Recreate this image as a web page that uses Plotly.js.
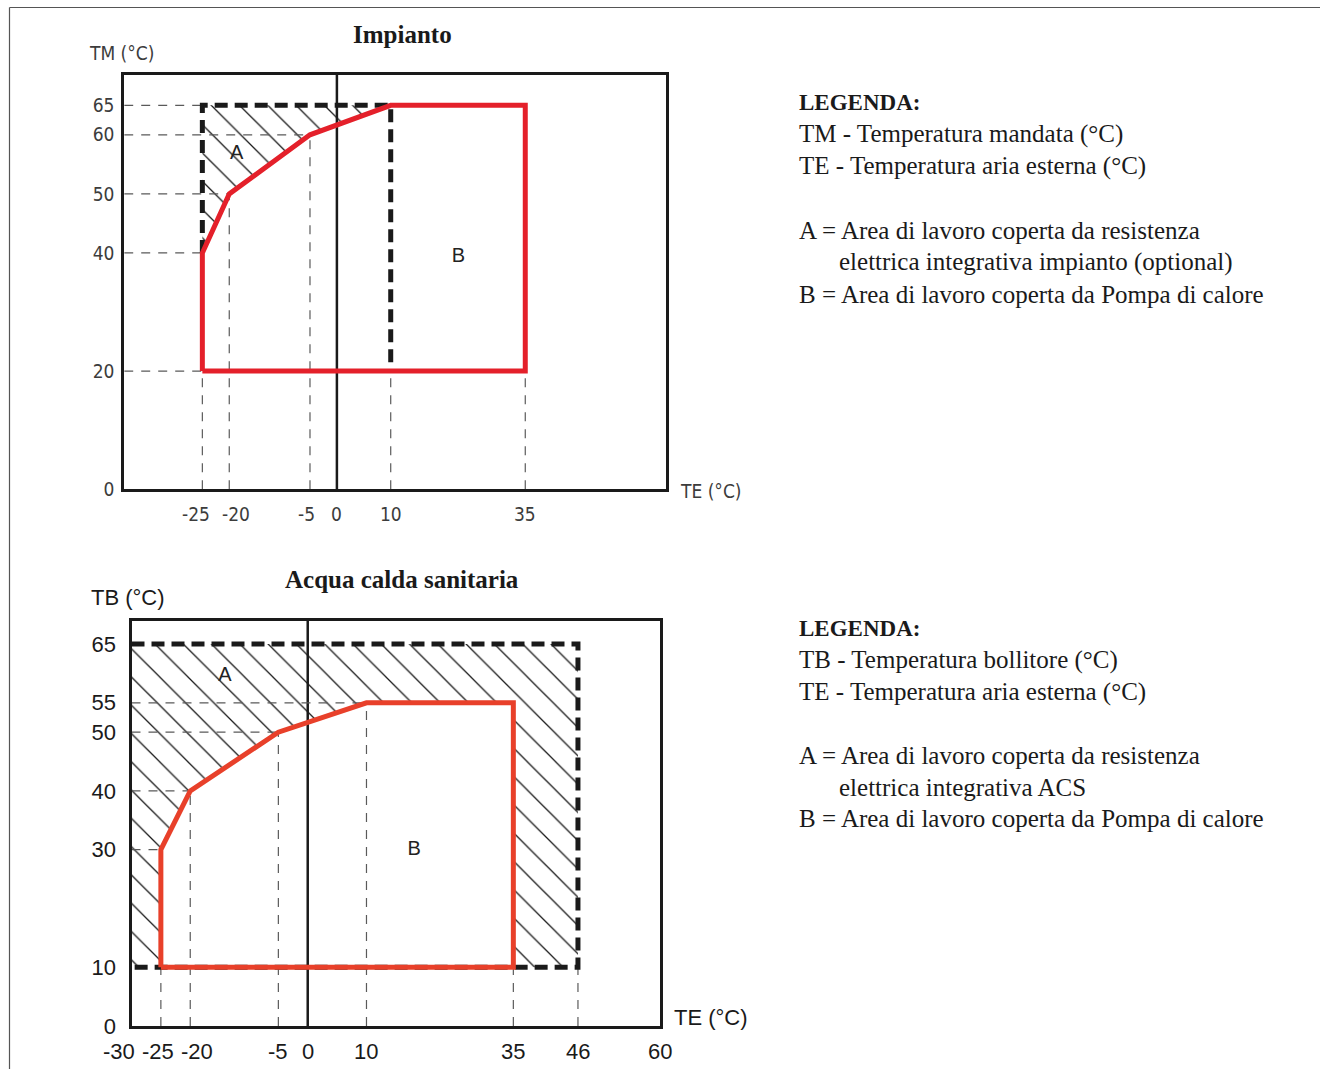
<!DOCTYPE html>
<html><head><meta charset="utf-8">
<script src="https://cdn.plot.ly/plotly-3.0.1.min.js"></script>
<style>html,body{margin:0;padding:0;background:#fff}#chart{width:1320px;height:1069px}</style>
</head><body><div id="chart"></div>
<script>
// ---------- Impianto (top chart) ----------
const impCurveTE = [-25, -25, -20, -5, 10, 35, 35, -25];
const impCurveTM = [20, 40, 50, 60, 65, 65, 20, 20];
const impLimitTE = [-25, -25, 10, 10];
const impLimitTM = [40, 65, 65, 20];
const impAreaA_TE = [-25, -25, 10, -5, -20, -25];
const impAreaA_TM = [40, 65, 65, 60, 50, 40];
const impTicksTE = [-25, -20, -5, 0, 10, 35];
const impTicksTM = [0, 20, 40, 50, 60, 65];
const impLabels = ['A', 'B'];
const impLabelTE = [-18.6, 22.6];
const impLabelTM = [56.8, 39.3];

// ---------- Acqua calda sanitaria (bottom chart) ----------
const acsCurveTE = [-25, -25, -20, -5, 10, 35, 35, -25];
const acsCurveTB = [10, 30, 40, 50, 55, 55, 10, 10];
const acsLimitTE = [-30, 46, 46, -30];
const acsLimitTB = [65, 65, 10, 10];
const acsAreaA_TE = [-30, 46, 46, 35, 35, 10, -5, -20, -25, -25, -30, -30];
const acsAreaA_TB = [65, 65, 10, 10, 55, 55, 50, 40, 30, 10, 10, 65];
const acsTicksTE = [-30, -25, -20, -5, 0, 10, 35, 46, 60];
const acsTicksTB = [0, 10, 30, 40, 50, 55, 65];
const acsLabels = ['A', 'B'];
const acsLabelTE = [-14.1, 18.1];
const acsLabelTB = [59.5, 30.0];

// ---------- texts ----------
const impTitle = 'Impianto';
const acsTitle = 'Acqua calda sanitaria';
const impYTitle = 'TM (°C)';
const acsYTitle = 'TB (°C)';
const xTitle = 'TE (°C)';
const impLegend = ['LEGENDA:', 'TM - Temperatura mandata (°C)', 'TE - Temperatura aria esterna (°C)', '',
  'A = Area di lavoro coperta da resistenza', 'elettrica integrativa impianto (optional)', 'B = Area di lavoro coperta da Pompa di calore'];
const acsLegend = ['LEGENDA:', 'TB - Temperatura bollitore (°C)', 'TE - Temperatura aria esterna (°C)', '',
  'A = Area di lavoro coperta da resistenza', 'elettrica integrativa ACS', 'B = Area di lavoro coperta da Pompa di calore'];

// ---------- layout / style (not data) ----------
const W = 1320, H = 1069;
const px = v => v / W, py = v => 1 - v / H;
const legendIndent = [0, 0, 0, 0, 0, 1, 0];
const impTickShift = [-6, 7, -3, 0, 0, 0];
const acsTickShift = [-13, -3, 7, 0, 0, 0, 0, 0, 0];
const impXRange = [-39.52, 61.11], impYRange = [0, 70.16];
const acsXRange = [-30, 60], acsYRange = [0, 69.0];

function guides(xs, ys, xmin) {
  const gx = [], gy = [];
  [...new Set(ys)].forEach(y => {
    let m = Infinity; xs.forEach((x, i) => { if (ys[i] === y && x < m) m = x; });
    if (y > 0) { gx.push(xmin, m, null); gy.push(y, y, null); }
  });
  [...new Set(xs)].forEach(x => {
    let m = Infinity; ys.forEach((y, i) => { if (xs[i] === x && y < m) m = y; });
    if (x > xmin) { gx.push(x, x, null); gy.push(0, m, null); }
  });
  return { gx, gy };
}

const impG = guides(impCurveTE.concat(impLimitTE), impCurveTM.concat(impLimitTM), impXRange[0]);
const acsG = guides(acsCurveTE.concat(acsLimitTE), acsCurveTB.concat(acsLimitTB), acsXRange[0]);

const hatch = { shape: '\\', size: 20, solidity: 0.065, fgcolor: '#1a1a1a', bgcolor: 'rgba(0,0,0,0)' };
const guideLine = { color: '#5a5a5a', width: 1.2, dash: '9px,8px' };
const limitLine = { color: '#1a1a1a', width: 5, dash: '13px,7px' };
const labelFont = { family: 'Liberation Sans, Arial', size: 20, color: '#222' };

const traces = [
  { x: impAreaA_TE, y: impAreaA_TM, xaxis: 'x', yaxis: 'y', mode: 'lines', fill: 'toself', fillcolor: 'rgba(0,0,0,0)', fillpattern: hatch, line: { width: 0 }, hoverinfo: 'skip' },
  { x: impG.gx, y: impG.gy, xaxis: 'x', yaxis: 'y', mode: 'lines', line: guideLine, hoverinfo: 'skip' },
  { x: impLimitTE, y: impLimitTM, xaxis: 'x', yaxis: 'y', mode: 'lines', line: limitLine, hoverinfo: 'skip' },
  { x: impCurveTE, y: impCurveTM, xaxis: 'x', yaxis: 'y', mode: 'lines', line: { color: '#e4202a', width: 5 }, hoverinfo: 'skip' },
  { x: impLabelTE, y: impLabelTM, text: impLabels, xaxis: 'x', yaxis: 'y', mode: 'text', textfont: labelFont, hoverinfo: 'skip' },

  { x: acsAreaA_TE, y: acsAreaA_TB, xaxis: 'x2', yaxis: 'y2', mode: 'lines', fill: 'toself', fillcolor: 'rgba(0,0,0,0)', fillpattern: hatch, line: { width: 0 }, hoverinfo: 'skip' },
  { x: acsG.gx, y: acsG.gy, xaxis: 'x2', yaxis: 'y2', mode: 'lines', line: guideLine, hoverinfo: 'skip' },
  { x: acsLimitTE, y: acsLimitTB, xaxis: 'x2', yaxis: 'y2', mode: 'lines', line: limitLine, hoverinfo: 'skip' },
  { x: acsCurveTE, y: acsCurveTB, xaxis: 'x2', yaxis: 'y2', mode: 'lines', line: { color: '#e8402a', width: 5 }, hoverinfo: 'skip' },
  { x: acsLabelTE, y: acsLabelTB, text: acsLabels, xaxis: 'x2', yaxis: 'y2', mode: 'text', textfont: labelFont, hoverinfo: 'skip' }
];

const topFont = { family: 'DejaVu Sans Condensed, DejaVu Sans', size: 19, color: '#3c3c3c', weight: 300 };
const botFont = { family: 'Liberation Sans, Arial', size: 22, color: '#1a1a1a' };
const axBase = { showgrid: false, zeroline: false, showline: true, mirror: true, linecolor: '#1a1a1a', linewidth: 3, ticks: '', tickmode: 'array', fixedrange: true };

const annotations = [];
function addText(text, x, y, font, xanchor) {
  annotations.push({ xref: 'paper', yref: 'paper', x: px(x), y: py(y), text, showarrow: false, xanchor: xanchor || 'left', yanchor: 'middle', font });
}
const serif = { family: 'Liberation Serif, Times New Roman', size: 25, color: '#1a1a1a' };
const serifBold = { family: 'Liberation Serif, Times New Roman', size: 23, color: '#1a1a1a', weight: 'bold' };
const titleFont = { family: 'Liberation Serif, Times New Roman', size: 25, color: '#1a1a1a', weight: 'bold' };

addText('<b>' + impTitle + '</b>', 402, 34, titleFont, 'center');
addText('<b>' + acsTitle + '</b>', 402, 579, titleFont, 'center');
addText(impYTitle, 87, 53, topFont);
addText(xTitle, 678, 491, topFont);
addText(acsYTitle, 89, 597, botFont);
addText(xTitle, 672, 1017, botFont);
impLegend.forEach((t, i) => { if (t) addText(i === 0 ? '<b>' + t + '</b>' : t, 797 + legendIndent[i] * 40, 102 + 32 * i, i === 0 ? serifBold : serif); });
acsLegend.forEach((t, i) => { if (t) addText(i === 0 ? '<b>' + t + '</b>' : t, 797 + legendIndent[i] * 40, 628 + 31.8 * i, i === 0 ? serifBold : serif); });

// x tick labels (drawn at the axis values, nudged apart where they would collide)
impTicksTE.forEach((v, i) => annotations.push({ xref: 'x', yref: 'paper', x: v, y: py(514), text: String(v), showarrow: false, xanchor: 'center', yanchor: 'middle', xshift: impTickShift[i], font: topFont }));
acsTicksTE.forEach((v, i) => annotations.push({ xref: 'x2', yref: 'paper', x: v, y: py(1051), text: String(v), showarrow: false, xanchor: 'center', yanchor: 'middle', xshift: acsTickShift[i], font: botFont }));

const layout = {
  width: W, height: H, autosize: false,
  margin: { l: 0, r: 0, t: 0, b: 0, pad: 0 },
  paper_bgcolor: '#fff', plot_bgcolor: 'rgba(0,0,0,0)',
  showlegend: false,
  xaxis: Object.assign({}, axBase, { domain: [px(124.2), px(665.8)], range: impXRange, anchor: 'y', tickvals: impTicksTE, showticklabels: false }),
  yaxis: Object.assign({}, axBase, { domain: [py(489.2), py(74.8)], range: impYRange, anchor: 'x', tickvals: impTicksTM, ticktext: impTicksTM.map(String), tickfont: topFont, ticklabelstandoff: 3 }),
  xaxis2: Object.assign({}, axBase, { domain: [px(131.5), px(660.2)], range: acsXRange, anchor: 'y2', tickvals: acsTicksTE, showticklabels: false }),
  yaxis2: Object.assign({}, axBase, { domain: [py(1026), py(620.5)], range: acsYRange, anchor: 'x2', tickvals: acsTicksTB, ticktext: acsTicksTB.map(String), tickfont: botFont, ticklabelstandoff: 8 }),
  shapes: [
    { type: 'line', xref: 'x', yref: 'y domain', x0: 0, x1: 0, y0: 0, y1: 1, line: { color: '#1a1a1a', width: 2.5 }, layer: 'below' },
    { type: 'line', xref: 'x2', yref: 'y2 domain', x0: 0, x1: 0, y0: 0, y1: 1, line: { color: '#1a1a1a', width: 2.5 }, layer: 'below' },
    { type: 'line', xref: 'paper', yref: 'paper', x0: px(9.5), x1: 1, y0: py(7.5), y1: py(7.5), line: { color: '#555', width: 1.2 } },
    { type: 'line', xref: 'paper', yref: 'paper', x0: px(9.5), x1: px(9.5), y0: 0, y1: py(7.5), line: { color: '#555', width: 1.2 } }
  ],
  annotations
};

Plotly.newPlot('chart', traces, layout, { staticPlot: true, displayModeBar: false });
</script>
</body></html>
